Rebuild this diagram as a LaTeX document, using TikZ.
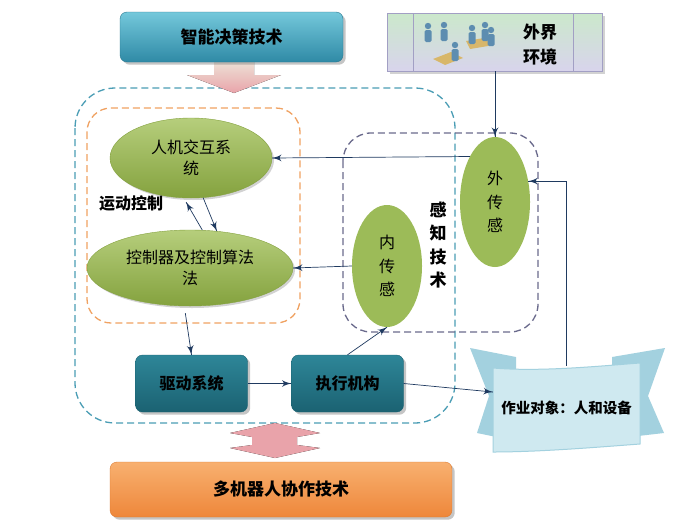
\documentclass[tikz,border=0pt]{standalone}
\usepackage{fontspec}
\setmainfont{Noto Sans CJK SC}
\usetikzlibrary{arrows}
\usetikzlibrary{decorations.markings}
\usetikzlibrary{shapes.geometric}
\usetikzlibrary{shadows}
\definecolor{navyline}{HTML}{1F3A60}
\definecolor{tealtop}{HTML}{74C8DB}
\definecolor{tealbot}{HTML}{2F8AA6}
\definecolor{tealedge}{HTML}{2A7890}
\definecolor{darkteal}{HTML}{2E8698}
\definecolor{darktealbot}{HTML}{1B6272}
\definecolor{orangetop}{HTML}{F8B070}
\definecolor{orangebot}{HTML}{EE873A}
\definecolor{orangeedge}{HTML}{DD7A30}
\definecolor{greentop}{HTML}{B6CE7C}
\definecolor{greenbot}{HTML}{84A23E}
\definecolor{sensegreen}{HTML}{9CBB58}
\definecolor{cyandash}{HTML}{4A9DB5}
\definecolor{orangedash}{HTML}{F0A262}
\definecolor{purpledash}{HTML}{6A6A8C}
\definecolor{pinkhead}{HTML}{E9A3AA}
\definecolor{pinklight}{HTML}{F7E0E3}
\definecolor{shaftpale}{HTML}{EDE8DA}
\definecolor{bannerfill}{HTML}{CFE9F0}
\definecolor{bannerdark}{HTML}{A3D1DF}
\definecolor{envgreen}{HTML}{CBE8CB}
\definecolor{envviolet}{HTML}{D8D4EC}
\definecolor{envedge}{HTML}{A29FC4}
\definecolor{iconblue}{HTML}{5D8DB0}
\definecolor{tabletan}{HTML}{D8B76A}
\tikzset{arr/.style = {decoration={markings,
                                   mark=at position 1 with {\arrow[scale=1.9]{latex'}}},
                       postaction={decorate}}}
\tikzset{link/.style = {draw=navyline, line width=0.7pt}}
\tikzset{topbox/.style = {rounded corners=7pt, draw=tealedge, top color=tealtop, bottom color=tealbot,
                          minimum width=223pt, minimum height=50pt, drop shadow={opacity=0.45},
                          font=\bfseries\fontsize{17}{20}\selectfont}}
\tikzset{drivebox/.style = {rounded corners=7pt, draw=darktealbot, top color=darkteal, bottom color=darktealbot,
                            minimum width=112pt, minimum height=57pt, drop shadow={opacity=0.45},
                            font=\bfseries\fontsize{16}{20}\selectfont}}
\tikzset{multibox/.style = {rounded corners=7pt, draw=orangeedge, top color=orangetop, bottom color=orangebot,
                            minimum width=342pt, minimum height=55pt, drop shadow={opacity=0.45},
                            font=\bfseries\fontsize{17}{20}\selectfont}}
\tikzset{greenell/.style = {ellipse, draw=greenbot, top color=greentop, bottom color=greenbot, align=center,
                            drop shadow={opacity=0.35, shadow xshift=2pt, shadow yshift=-2pt},
                            font=\fontsize{16}{21}\selectfont}}
\tikzset{senseell/.style = {ellipse, fill=sensegreen, align=center, font=\fontsize{16}{23.5}\selectfont}}
\tikzset{dashframe/.style = {line width=1.3pt, dash pattern=on 7pt off 4pt}}
\begin{document}
\begin{tikzpicture}[x=1pt, y=-1pt]
      \useasboundingbox [fill=white] (0, 0) rectangle (692, 525);
      % frames
      \draw [dashframe, draw=cyandash, rounded corners=40pt] (75, 88) rectangle (455, 423);
      \draw [dashframe, draw=orangedash, rounded corners=24pt] (87, 108) rectangle (300, 323);
      \draw [dashframe, draw=purpledash, rounded corners=28pt] (343, 133) rectangle (538, 332);
      % pink arrows
      \fill [top color=shaftpale, bottom color=pinkhead] (214, 58) -- (254, 58) -- (254, 75) -- (281, 75)
            -- (234, 93) -- (187, 75) -- (214, 75) -- cycle;
      \fill [top color=pinkhead, middle color=pinklight, bottom color=pinkhead] (275, 423) -- (320, 433)
            -- (297, 437) -- (297, 445) -- (320, 448) -- (275, 458) -- (230, 448) -- (252, 445)
            -- (252, 437) -- (230, 433) -- cycle;
      \node [topbox] (decide) at (231.5, 37) {智能决策技术};
      % outside world
      \node [draw=envedge, top color=envgreen, bottom color=envviolet, minimum width=215pt,
             minimum height=58pt, drop shadow={opacity=0.35}] (env) at (495, 42) {};
      \draw [envedge] (413, 13) -- (413, 71);
      \draw [envedge] (573, 13) -- (573, 71);
      \fill [tabletan] (466, 41) -- (490, 37) -- (494, 45) -- (470, 49) -- cycle;
      \fill [tabletan] (433, 59) -- (451, 52) -- (463, 58) -- (445, 65) -- cycle;
      \foreach \px/\py in {428/34, 444/33, 472/36, 485/33, 491/38, 455/53}
        {
          \fill [iconblue] (\px, \py - 8) circle (3.2);
          \fill [iconblue, rounded corners=1.5pt] (\px - 3.5, \py - 4) rectangle (\px + 3.5, \py + 8);
        }
      \node [font=\bfseries\fontsize{17}{25}\selectfont, align=center] (envtext) at (540, 45) {外界\\环境};
      % motion control
      \node [greenell, minimum width=162pt, minimum height=80pt] (hci) at (191, 158) {人机交互系\\统};
      \node [greenell, minimum width=206pt, minimum height=76pt] (ctrl) at (190, 268) {控制器及控制算法\\法};
      \node [font=\bfseries\fontsize{16}{20}\selectfont] (motion) at (131, 203) {运动控制};
      % sensing
      \node [senseell, minimum width=70pt, minimum height=122pt] (int) at (387, 266) {内\\传\\感};
      \node [senseell, minimum width=70pt, minimum height=130pt] (ext) at (495, 202) {外\\传\\感};
      \node [font=\bfseries\fontsize{17}{23.5}\selectfont, align=center] (sense) at (438, 245) {感\\知\\技\\术};
      % drive chain
      \node [drivebox] (drive) at (191.5, 383.5) {驱动系统};
      \node [drivebox] (act) at (347.5, 383.5) {执行机构};
      \node [multibox] (multi) at (281, 489.5) {多机器人协作技术};
      % work object banner
      \fill [bannerdark] (470, 348) -- (516, 357) -- (516, 441) -- (477, 433) -- (489, 396) -- cycle;
      \fill [bannerdark] (665, 348) -- (612, 357) -- (612, 439) -- (664, 433) -- (648, 396) -- cycle;
      \fill [bannerfill, draw=bannerdark, line width=1pt] (493, 368) .. controls (540, 372) and (600, 366) .. (640, 363)
            -- (640, 444) .. controls (600, 447) and (540, 452) .. (493, 452) -- cycle;
      \node [font=\bfseries\fontsize{14.5}{18}\selectfont, minimum width=147pt, minimum height=84pt] (obj)
            at (566.5, 408) {作业对象：人和设备};
      % connectors
      \draw [link, arr] (env.south) -- (ext.north);
      \draw [link, arr] (ext.119) -- (hci.east);
      \draw [link, arr] (int.west) -- (ctrl.east);
      \draw [link, arr] (hci.-73) -- (ctrl.54);
      \draw [link, arr] (ctrl.72) -- ([yshift=-4pt]hci.-97);
      \draw [link, arr] ([yshift=-7pt]ctrl.-97) -- (drive.north);
      \draw [link, arr] (drive.east) -- (act.west);
      \draw [link, arr] (act.north) -- (int.south);
      \draw [link, arr] (act.east) -- ([yshift=16pt]obj.west);
      \draw [link, arr] (obj.north) |- (ext.32);
    \end{tikzpicture}
\end{document}
